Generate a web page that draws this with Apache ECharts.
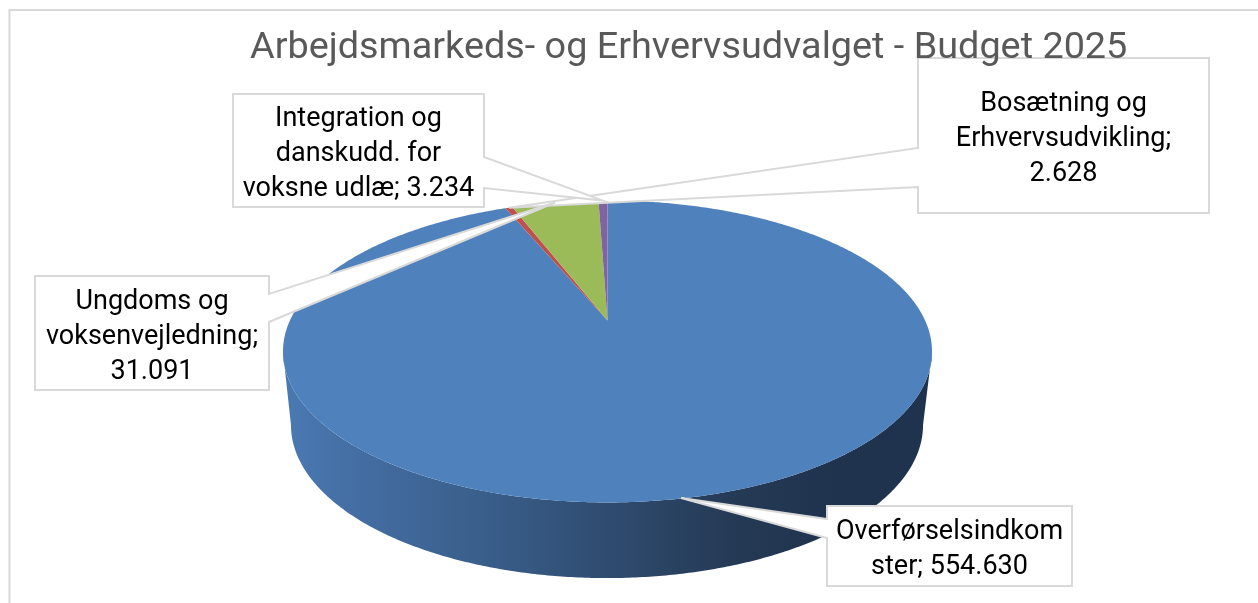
<!DOCTYPE html>
<html>
<head>
<meta charset="utf-8">
<script src="https://cdn.jsdelivr.net/npm/echarts@6/dist/echarts.min.js"></script>
<style>
  html, body { margin: 0; padding: 0; background: #fff; }
  #chart { width: 1258px; height: 603px; }
</style>
</head>
<body>
<div id="chart"></div>
<script>
const titleText = 'Arbejdsmarkeds- og Erhvervsudvalget - Budget 2025'
const categories = ['Overførselsindkomster', 'Bosætning og Erhvervsudvikling', 'Ungdoms og voksenvejledning', 'Integration og danskudd. for voksne udlæ']
const values = [554630, 2628, 31091, 3234]
const labelLines = [
    ['Overførselsindkom', 'ster; 554.630'],
    ['Bosætning og', 'Erhvervsudvikling;', '2.628'],
    ['Ungdoms og', 'voksenvejledning;', '31.091'],
    ['Integration og', 'danskudd. for', 'voksne udlæ; 3.234']
]
const sliceColors = ['#4f81bd', '#c0504d', '#9bbb59', '#8064a2']

// the tilted disc: a circle seen in perspective, so the apex sits above the ellipse centre
const topRim = {cx: 607.5, cy: 320.5, a: 144.6, b: 317.6, k: 0.2053}
const bottomRim = {cx: 607, cy: 393.6, a: 146.6, b: 309.3, k: 0.2053}

// callout boxes, tail goes out of one side between t1 and t2
const boxes = [
    {x: 827, y: 506, w: 245, h: 80, side: 'left', t1: 519, t2: 538, tipDx: -4},
    {x: 918, y: 58, w: 291, h: 155, side: 'left', t1: 148, t2: 187, tipDx: 0},
    {x: 35, y: 276, w: 234, h: 114, side: 'right', t1: 294, t2: 322, tipDx: 0},
    {x: 233, y: 94, w: 251, h: 113, side: 'right', t1: 157, t2: 188, tipDx: 0}
]

const total = values.reduce((a, b) => a + b, 0)

// slices run clockwise from 12 o'clock
function sliceAngles(idx) {
    let before = 0
    for (let i = 0; i < idx; i++) {
        before += values[i]
    }
    return [before / total * 360, (before + values[idx]) / total * 360]
}

function rimPoint(rim, deg) {
    const t = deg * Math.PI / 180
    const w = 1 + rim.k * Math.cos(t)
    return [rim.cx + rim.b * Math.sin(t) / w, rim.cy - rim.a * Math.cos(t) / w]
}

function arcPoints(rim, from, to) {
    const pts = []
    const steps = Math.max(2, Math.ceil((to - from) / 0.5))
    for (let i = 0; i <= steps; i++) {
        pts.push(rimPoint(rim, from + (to - from) * i / steps))
    }
    return pts
}

function renderWall(params) {
    const angles = sliceAngles(params.dataIndex)
    // only the front of the side wall shows, between the widest points of the ellipse
    const edge = Math.acos(-topRim.k) * 180 / Math.PI
    const from = Math.max(angles[0], edge)
    const to = Math.min(angles[1], 360 - edge)
    if (to <= from) {
        return
    }
    const points = arcPoints(topRim, from, to).concat(arcPoints(bottomRim, from, to).reverse())
    return {
        type: 'polygon',
        shape: {points},
        style: {
            fill: {
                type: 'linear',
                global: true,
                x: 283, y: 0, x2: 932, y2: 0,
                colorStops: [
                    {offset: 0, color: '#4a79b2'},
                    {offset: 0.17, color: '#41699c'},
                    {offset: 0.3, color: '#3a5f8c'},
                    {offset: 0.5, color: '#2f4c70'},
                    {offset: 0.69, color: '#253a55'},
                    {offset: 0.85, color: '#1f334e'},
                    {offset: 1, color: '#1f334e'}
                ]
            }
        }
    }
}

function renderTop(params) {
    const angles = sliceAngles(params.dataIndex)
    const points = arcPoints(topRim, angles[0], angles[1])
    points.push([topRim.cx, topRim.cy])
    return {
        type: 'polygon',
        shape: {points},
        style: {fill: sliceColors[params.dataIndex]}
    }
}

function renderCallout(params) {
    const idx = params.dataIndex
    const box = boxes[idx]
    const angles = sliceAngles(idx)
    const tip = rimPoint(topRim, (angles[0] + angles[1]) / 2)
    tip[0] += box.tipDx
    const l = box.x
    const r = box.x + box.w
    const t = box.y
    const b = box.y + box.h
    let points
    if (box.side == 'left') {
        points = [[l, t], [r, t], [r, b], [l, b], [l, box.t2], tip, [l, box.t1]]
    } else {
        points = [[l, t], [r, t], [r, box.t1], tip, [r, box.t2], [r, b], [l, b]]
    }
    return {
        type: 'group',
        children: [
            {
                type: 'polygon',
                shape: {points},
                style: {fill: '#ffffff', stroke: '#d9d9d9', lineWidth: 2, lineJoin: 'miter'}
            },
            {
                type: 'text',
                style: {
                    text: labelLines[idx].join('\n'),
                    x: box.x + box.w / 2,
                    y: box.y + box.h / 2 + 4,
                    align: 'center',
                    verticalAlign: 'middle',
                    fontFamily: 'Roboto',
                    fontSize: 27,
                    lineHeight: 35,
                    fill: '#000000'
                }
            }
        ]
    }
}

const seriesData = values.map((v, i) => ({name: categories[i], value: v}))

const myChart = echarts.init(document.getElementById('chart'), null, {renderer: 'canvas'})

myChart.setOption({
    animation: false,
    backgroundColor: '#ffffff',
    title: {
        text: titleText,
        left: 250,
        top: 30,
        padding: 0,
        z: 20,
        textStyle: {
            fontFamily: 'Roboto',
            fontWeight: 'normal',
            fontSize: 37.8,
            color: '#595959'
        }
    },
    graphic: [
        {
            type: 'polyline',
            silent: true,
            shape: {points: [[9.5, 603], [9.5, 10], [1258, 10]]},
            style: {fill: null, stroke: '#d9d9d9', lineWidth: 2}
        }
    ],
    series: [
        {type: 'custom', coordinateSystem: 'none', silent: true, z: 1, data: seriesData, renderItem: renderWall},
        {type: 'custom', coordinateSystem: 'none', silent: true, z: 2, data: seriesData, renderItem: renderTop},
        {type: 'custom', coordinateSystem: 'none', silent: true, z: 3, data: seriesData, renderItem: renderCallout}
    ]
})
</script>
</body>
</html>
